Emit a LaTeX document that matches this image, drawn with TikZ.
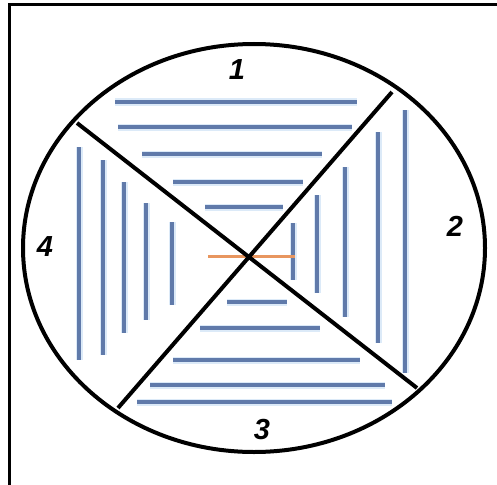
\documentclass[tikz,border=0pt]{standalone}
\usepackage{fontspec}
\setmainfont{Liberation Sans}
\definecolor{hatch}{RGB}{96,122,170}
\definecolor{halo}{RGB}{220,234,248}
\definecolor{orangeline}{RGB}{232,150,95}
\begin{document}
\begin{tikzpicture}[x=1pt,y=-1pt,
  hatchline/.style={draw=hatch,line width=3.2pt},
  haloline/.style={draw=halo,line width=7pt},
  outline/.style={draw=black,line width=4pt},
  lbl/.style={font=\fontsize{29}{29}\selectfont\bfseries\itshape,inner sep=0pt}]
\useasboundingbox (0,0) rectangle (497,484);
\fill[white] (0,0) rectangle (497,484);
% frame (top and left visible)
\draw[line width=3pt] (9,500) -- (9,5) -- (510,5);
% halo under hatch lines
\foreach \y/\a/\b in {102/115/357,127/118/352,154/142/322,182/173/303,207/205/283,
                      302/227/287,328/200/320,360/173/360,385/150/385,402/137/392}
  \draw[haloline] (\a,\y) -- (\b,\y);
\foreach \x/\a/\b in {79/147/360,103/160/355,124/182/333,146/203/320,172/222/305,
                      293/223/280,317/195/293,345/167/317,378/132/343,405/110/373}
  \draw[haloline] (\x,\a) -- (\x,\b);
% region 1 and 3 horizontal lines
\foreach \y/\a/\b in {102/115/357,127/118/352,154/142/322,182/173/303,207/205/283,
                      302/227/287,328/200/320,360/173/360,385/150/385,402/137/392}
  \draw[hatchline] (\a,\y) -- (\b,\y);
% region 4 and 2 vertical lines
\foreach \x/\a/\b in {79/147/360,103/160/355,124/182/333,146/203/320,172/222/305,
                      293/223/280,317/195/293,345/167/317,378/132/343,405/110/373}
  \draw[hatchline] (\x,\a) -- (\x,\b);
% orange line
\draw[draw=orangeline,line width=3pt] (208,256) -- (295,256);
% ellipse
\draw[outline] (254,248) ellipse [x radius=231, y radius=204];
% cross
\coordinate (tl) at (77,123);
\coordinate (br) at (417,388);
\coordinate (tr) at (392,92);
\coordinate (bl) at (118,408);
\draw[outline] (tl) -- (br);
\draw[outline] (tr) -- (bl);
% labels
\node[lbl] (l1) at (237,70) {1};
\node[lbl] (l2) at (455,226) {2};
\node[lbl] (l3) at (262,430) {3};
\node[lbl] (l4) at (45,247) {4};
\end{tikzpicture}
\end{document}
